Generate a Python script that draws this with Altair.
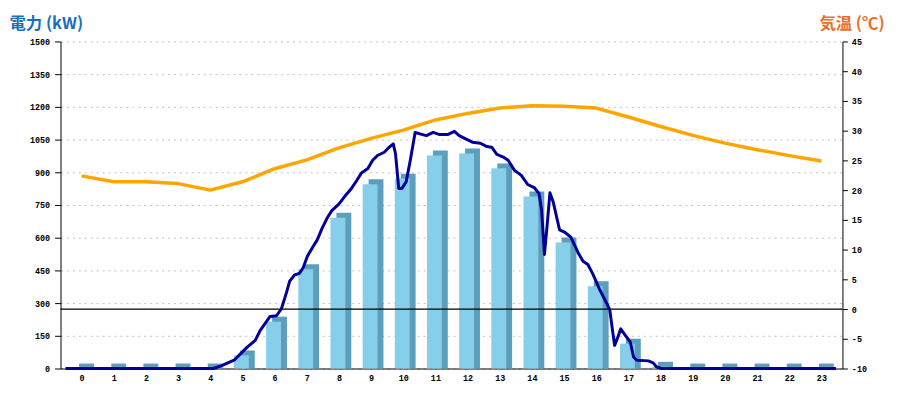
import altair as alt
import pandas as pd

# ---- data ----
hours = list(range(24))
hourly_kw = [0, 0, 0, 0, 0, 60, 215, 455, 692, 845, 871, 977,
             986, 918, 789, 578, 377, 114, 8, 0, 0, 0, 0, 0]
temp_c = [22.4, 21.4, 21.4, 21.1, 20.0, 21.4, 23.6, 25.1, 27.1, 28.7, 30.1, 31.8,
          32.9, 33.8, 34.2, 34.1, 33.8, 32.3, 30.7, 29.2, 27.9, 26.8, 25.8, 24.9]
line_hour = [0, 4.6, 4.84, 5.24, 5.65, 5.90, 6.05, 6.36, 6.56, 6.71, 6.87, 6.97,
             7.12, 7.27, 7.39, 7.52, 7.67, 7.83, 7.98, 8.13, 8.28, 8.49, 8.69, 8.89,
             9.04, 9.20, 9.40, 9.55, 9.70, 9.91, 10.06, 10.19, 10.26, 10.36, 10.46, 10.59,
             10.72, 10.87, 11.02, 11.22, 11.43, 11.63, 11.88, 12.09, 12.24, 12.44, 12.65, 12.90,
             13.10, 13.25, 13.41, 13.61, 13.76, 13.96, 14.17, 14.37, 14.57, 14.72, 14.80, 14.89,
             14.97, 15.06, 15.16, 15.36, 15.53, 15.71, 15.94, 16.09, 16.24, 16.40, 16.60, 16.80,
             16.92, 17.00, 17.07, 17.19, 17.26, 17.41, 17.56, 17.66, 17.76, 18.12, 18.27, 18.37,
             18.52, 23.95]
line_kw = [0, 0, 12, 38, 98, 129, 174, 239, 242, 273, 348, 401,
           429, 436, 462, 515, 553, 591, 644, 689, 724, 753, 791, 826,
           859, 897, 917, 955, 977, 992, 1015, 1030, 985, 826, 826, 856,
           955, 1083, 1076, 1068, 1083, 1073, 1073, 1088, 1068, 1053, 1038, 1033,
           1018, 1015, 982, 970, 955, 909, 886, 844, 830, 803, 727, 523,
           651, 806, 765, 636, 624, 603, 530, 492, 477, 432, 364, 306,
           270, 182, 106, 151, 182, 151, 121, 53, 38, 35, 26, 8,
           0, 0]
zero_temp = [0]
kw_ticks = list(range(0, 1501, 150))
temp_ticks = list(range(-10, 46, 5))

bars_df = pd.DataFrame({"hour": hours, "kw": hourly_kw})
temp_df = pd.DataFrame({"hour": hours, "temp": temp_c})
line_df = pd.DataFrame({"t": line_hour, "kw": line_kw})
zero_df = pd.DataFrame({"temp": zero_temp})

LABEL_FONT = "Liberation Mono"
TITLE_FONT = "Noto Sans CJK JP"
FRONT = "#87CEEB"
SIDE = "#5B9FBD"

x_scale = alt.Scale(domain=[0, 24], nice=False, zero=False)
kw_scale = alt.Scale(domain=[0, 1500], nice=False)
t_scale = alt.Scale(domain=[-10, 45], nice=False, zero=False)

x_axis = alt.Axis(values=[h + 0.5 for h in hours], labelExpr="floor(datum.value)",
                  ticks=False, grid=False, domainColor="black", labelPadding=5,
                  title=None, labelAngle=0, labelFont=LABEL_FONT, labelFontSize=8.5,
                  labelFontWeight="bold", labelColor="black")

kw_axis = alt.Axis(orient="left", values=kw_ticks, format="d", grid=True, gridDash=[2, 4],
                   gridColor="#c0c0c0", tickSize=6, tickColor="black", domainColor="black",
                   labelPadding=5, labelFont=LABEL_FONT, labelFontSize=8.5,
                   labelFontWeight="bold", labelColor="black",
                   title="電力 (kW)", titleAngle=0, titleAlign="left",
                   titleBaseline="alphabetic", titleX=-52, titleY=-13,
                   titleFont=TITLE_FONT, titleFontSize=16.5, titleFontWeight="bold",
                   titleColor="#1C6EBA")

temp_axis = alt.Axis(orient="right", values=temp_ticks, grid=False, tickSize=5,
                     tickColor="black", domainColor="black", labelPadding=4,
                     labelExpr="'' + datum.value",
                     labelFont=LABEL_FONT, labelFontSize=8.5, labelFontWeight="bold",
                     labelColor="black",
                     title="気温 (℃)", titleAngle=0, titleAlign="right",
                     titleBaseline="alphabetic", titleX=42, titleY=-13,
                     titleFont=TITLE_FONT, titleFontSize=16.5, titleFontWeight="bold",
                     titleColor="#E8702A")

back = alt.Chart(bars_df).transform_calculate(xc="datum.hour + 0.5").mark_bar(
    size=15, xOffset=5, yOffset=-5, color=SIDE
).encode(
    x=alt.X("xc:Q", scale=x_scale, axis=x_axis),
    y=alt.Y("kw:Q", scale=kw_scale, axis=kw_axis),
    y2=alt.datum(0),
)

front = alt.Chart(bars_df).transform_calculate(xc="datum.hour + 0.5").mark_bar(
    size=15, xOffset=-1, color=FRONT
).encode(
    x=alt.X("xc:Q", scale=x_scale, axis=x_axis),
    y=alt.Y("kw:Q", scale=kw_scale, axis=None),
)

rule = alt.Chart(zero_df).mark_rule(color="black", strokeWidth=1.2).encode(
    y=alt.Y("temp:Q", scale=t_scale, axis=None),
)

power_line = alt.Chart(line_df).mark_line(color="#000099", strokeWidth=3, strokeJoin="round").encode(
    x=alt.X("t:Q", scale=x_scale, axis=x_axis),
    y=alt.Y("kw:Q", scale=kw_scale, axis=None),
)

temp_line = alt.Chart(temp_df).transform_calculate(xc="datum.hour + 0.5").mark_line(
    color="#FFA500", strokeWidth=3.5, strokeJoin="round"
).encode(
    x=alt.X("xc:Q", scale=x_scale, axis=x_axis),
    y=alt.Y("temp:Q", scale=t_scale, axis=temp_axis),
)

chart = alt.layer(back, front, rule, power_line, temp_line).resolve_scale(
    y="independent"
).resolve_axis(y="independent").properties(
    width=789, height=330,
    padding={"left": 53, "top": 32, "right": 50, "bottom": 30},
    autosize=alt.AutoSizeParams(type="none"),
    background="white",
).configure_view(stroke=None)

chart.save("out.html", embed_options={"renderer": "svg", "actions": False})
